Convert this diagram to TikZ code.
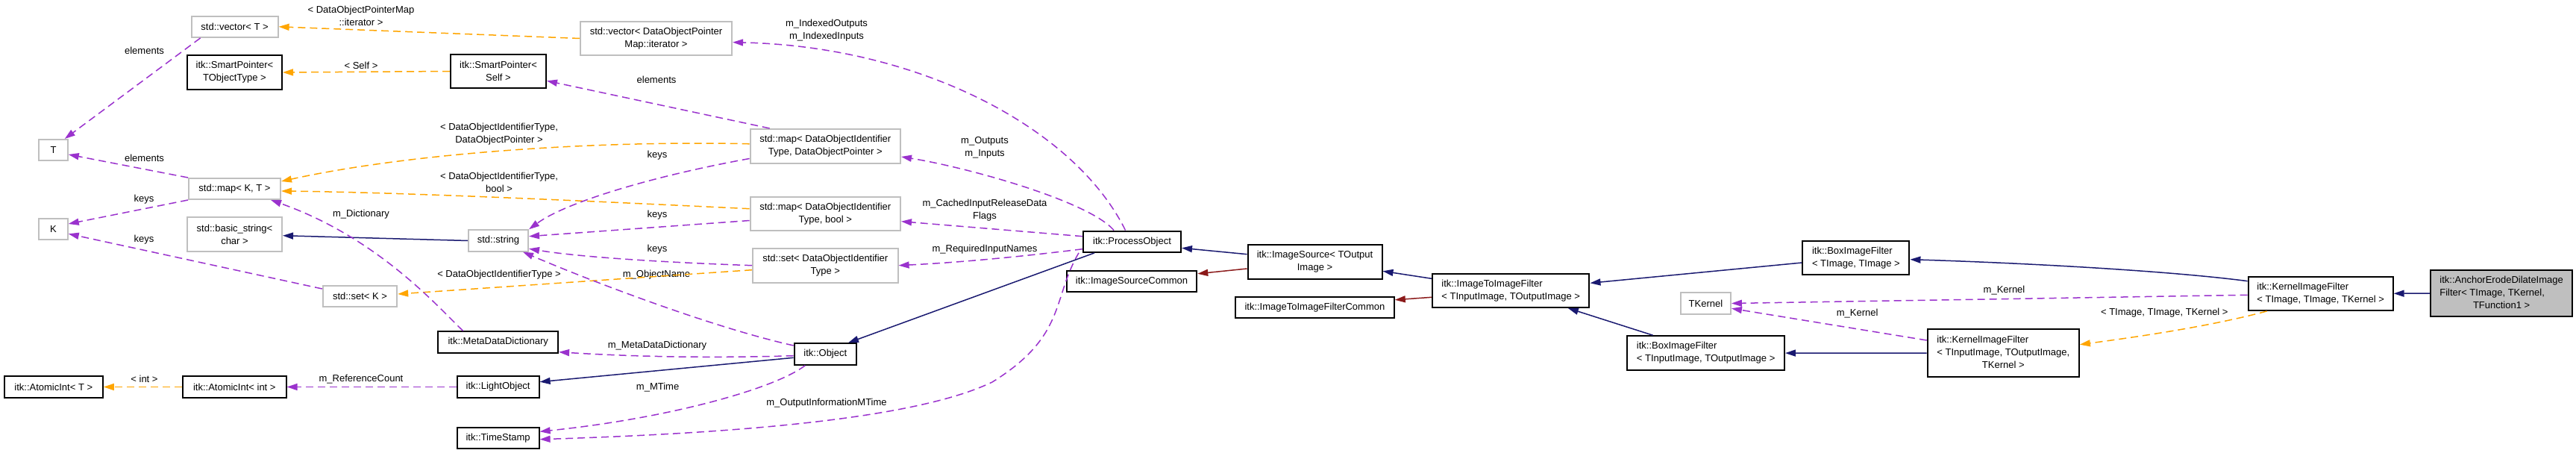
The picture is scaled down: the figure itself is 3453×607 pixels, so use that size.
\documentclass[tikz,border=0pt]{standalone}
\usepackage{fontspec}
\setmainfont{Liberation Sans}
\usetikzlibrary{arrows.meta}
\definecolor{navyc}{HTML}{191970}
\definecolor{dredc}{HTML}{8B1A1A}
\definecolor{purpc}{HTML}{9A32CD}
\definecolor{orngc}{HTML}{FFA500}
\definecolor{boxgray}{HTML}{BFBFBF}
\newcommand\lblfont{\fontsize{13}{17}\selectfont}
\tikzset{
  bbox/.style={draw=black, line width=2pt, fill=white, inner sep=0pt, font=\lblfont, align=center},
  gbox/.style={bbox, draw=boxgray},
  lbl/.style={font=\lblfont, align=center, inner sep=0pt},
  tipstyle/.style={-{Triangle[length=14pt,width=9pt]}},
  navyline/.style={draw=navyc, line width=1.5pt, tipstyle},
  dredline/.style={draw=dredc, line width=1.5pt, tipstyle},
  purpline/.style={draw=purpc, line width=1.5pt, dash pattern=on 10pt off 6pt, tipstyle},
  orngline/.style={draw=orngc, line width=1.5pt, dash pattern=on 10pt off 6pt, tipstyle},
}
\begin{document}
\begin{tikzpicture}[x=1pt,y=-1pt]
\useasboundingbox (0,0) rectangle (3453,607);
% ---------- nodes ----------
\node[gbox, minimum width=116pt, minimum height=28.3pt] (vecT) at (314.6,35.8) {std::vector< T >};
\node[bbox, minimum width=127pt, minimum height=46pt] (spTO) at (314.5,97) {itk::SmartPointer<\\TObjectType >};
\node[bbox, minimum width=128pt, minimum height=45.6pt] (spSelf) at (668,95.5) {itk::SmartPointer<\\Self >};
\node[gbox, minimum width=203pt, minimum height=45pt] (vecDOPM) at (879.5,51.5) {std::vector< DataObjectPointer\\Map::iterator >};
\node[gbox, minimum width=38.5pt, minimum height=28pt] (T) at (71.5,201) {T};
\node[gbox, minimum width=123pt, minimum height=28pt] (mapKT) at (314.5,253) {std::map< K, T >};
\node[gbox, minimum width=38.5pt, minimum height=28pt] (K) at (71.5,306.7) {K};
\node[gbox, minimum width=127pt, minimum height=46pt] (bstr) at (314.5,314) {std::basic\_string<\\char >};
\node[gbox, minimum width=80pt, minimum height=28.4pt] (stdstring) at (668,322.5) {std::string};
\node[gbox, minimum width=99.4pt, minimum height=28pt] (setK) at (482.5,397) {std::set< K >};
\node[bbox, minimum width=160.7pt, minimum height=28.4pt] (MDD) at (667.7,458.5) {itk::MetaDataDictionary};
\node[bbox, minimum width=132pt, minimum height=28.4pt] (AIT) at (71.8,518.5) {itk::AtomicInt< T >};
\node[bbox, minimum width=138.5pt, minimum height=28.4pt] (AII) at (314.3,518.5) {itk::AtomicInt< int >};
\node[bbox, minimum width=110pt, minimum height=28.4pt] (LightObject) at (667.6,518.5) {itk::LightObject};
\node[bbox, minimum width=110pt, minimum height=28.4pt] (TimeStamp) at (667.6,586.9) {itk::TimeStamp};
\node[gbox, minimum width=201.4pt, minimum height=45.7pt] (mapDOP) at (1106.3,195.8) {std::map< DataObjectIdentifier\\Type, DataObjectPointer >};
\node[gbox, minimum width=201.4pt, minimum height=45.3pt] (mapBool) at (1106.3,286.7) {std::map< DataObjectIdentifier\\Type, bool >};
\node[gbox, minimum width=194.6pt, minimum height=46pt] (setDOIT) at (1106.3,355.7) {std::set< DataObjectIdentifier\\Type >};
\node[bbox, minimum width=83.3pt, minimum height=28.4pt] (Object) at (1106.3,474.5) {itk::Object};
\node[bbox, minimum width=131pt, minimum height=28.4pt] (PO) at (1517.5,323.7) {itk::ProcessObject};
\node[bbox, minimum width=174.5pt, minimum height=28.3pt] (ISC) at (1517,376.8) {itk::ImageSourceCommon};
\node[bbox, minimum width=180pt, minimum height=46pt] (ImageSource) at (1762.5,350.7) {itk::ImageSource< TOutput\\Image >};
\node[bbox, minimum width=212.8pt, minimum height=28.3pt] (I2IC) at (1762.4,411.8) {itk::ImageToImageFilterCommon};
\node[bbox, align=left, minimum width=210.5pt, minimum height=45.3pt] (I2I) at (2025.2,389.3) {itk::ImageToImageFilter\\< TInputImage, TOutputImage >};
\node[bbox, align=left, minimum width=143pt, minimum height=45.3pt] (BoxTT) at (2487.9,345.3) {itk::BoxImageFilter\\< TImage, TImage >};
\node[gbox, minimum width=67pt, minimum height=28.4pt] (TKernel) at (2286.4,406.5) {TKernel};
\node[bbox, align=left, minimum width=210.7pt, minimum height=45.7pt] (BoxIO) at (2286.6,473.1) {itk::BoxImageFilter\\< TInputImage, TOutputImage >};
\node[bbox, minimum width=203.2pt, minimum height=63.4pt] (KIFIOK) at (2685.3,473) {\begin{tabular}{@{}l@{}}itk::KernelImageFilter\\< TInputImage, TOutputImage,\\\multicolumn{1}{@{}c@{}}{TKernel >}\end{tabular}};
\node[bbox, align=left, minimum width=194pt, minimum height=45.3pt] (KIFTTK) at (3110.6,393.3) {itk::KernelImageFilter\\< TImage, TImage, TKernel >};
\node[bbox, fill=boxgray, minimum width=189.4pt, minimum height=62.6pt] (Anchor) at (3353.1,393) {\begin{tabular}{@{}l@{}}itk::AnchorErodeDilateImage\\Filter< TImage, TKernel,\\\multicolumn{1}{@{}c@{}}{TFunction1 >}\end{tabular}};
% ---------- labels ----------
\node[lbl] (L1) at (484,21.7) {< DataObjectPointerMap\\::iterator >};
\node[lbl] (L2) at (193.5,68.3) {elements};
\node[lbl] (L3) at (484,87.7) {< Self >};
\node[lbl] (L4) at (880,107) {elements};
\node[lbl] (L5) at (669,180) {< DataObjectIdentifierType,\\DataObjectPointer >};
\node[lbl] (L6) at (193.5,211.7) {elements};
\node[lbl] (L7) at (881,208) {keys};
\node[lbl] (L8) at (669,244.3) {< DataObjectIdentifierType,\\bool >};
\node[lbl] (L9) at (193,266.7) {keys};
\node[lbl] (L10) at (484,286.7) {m\_Dictionary};
\node[lbl] (L11) at (881,287.7) {keys};
\node[lbl] (L12) at (193,320.7) {keys};
\node[lbl] (L13) at (881,334.3) {keys};
\node[lbl] (L14) at (669,368.3) {< DataObjectIdentifierType >};
\node[lbl] (L15) at (880,368) {m\_ObjectName};
\node[lbl] (L16) at (881,463.3) {m\_MetaDataDictionary};
\node[lbl] (L17) at (193.5,508.3) {< int >};
\node[lbl] (L18) at (484,508.3) {m\_ReferenceCount};
\node[lbl] (L19) at (881.6,519.3) {m\_MTime};
\node[lbl] (L20) at (1108,540) {m\_OutputInformationMTime};
\node[lbl] (L21) at (1108,40.3) {m\_IndexedOutputs\\m\_IndexedInputs};
\node[lbl] (L22) at (1320,197.7) {m\_Outputs\\m\_Inputs};
\node[lbl] (L23) at (1320,281.7) {m\_CachedInputReleaseData\\Flags};
\node[lbl] (L24) at (1320,334.3) {m\_RequiredInputNames};
\node[lbl] (L25) at (2686.5,388.7) {m\_Kernel};
\node[lbl] (L26) at (2489.6,420) {m\_Kernel};
\node[lbl] (L27) at (2901.3,419.3) {< TImage, TImage, TKernel >};
% ---------- connectors ----------
\draw[orngline] (vecDOPM.west) -- (vecT.east);
\draw[purpline] ([xshift=13pt]vecT.south west) -- ([xshift=-5pt]T.north east);
\draw[orngline] (spSelf.west) -- (spTO.east);
\draw[purpline] ([xshift=27pt]mapDOP.north west) -- ([yshift=-12.8pt]spSelf.east);
\draw[purpline] (mapKT.north west) -- ([yshift=-6pt]T.east);
\draw[purpline] (mapKT.south west) -- ([yshift=6.7pt]K.east);
\draw[purpline] ([yshift=10pt]setK.west) -- ([yshift=-6.6pt]K.east);
\draw[orngline] ([yshift=3pt]mapDOP.west) .. controls (800,188) and (550,205) .. ([yshift=10pt]mapKT.east);
\draw[orngline] ([yshift=7pt]mapBool.west) .. controls (800,270) and (550,258) .. ([yshift=-3pt]mapKT.east);
\draw[purpline] ([yshift=-16.7pt]mapDOP.west) .. controls (880,235) and (760,270) .. (stdstring.north east);
\draw[purpline] ([yshift=-8.8pt]mapBool.west) -- ([yshift=5.8pt]stdstring.east);
\draw[purpline] (setDOIT.west) .. controls (900,352) and (780,345) .. ([yshift=-10.8pt]stdstring.east);
\draw[orngline] ([yshift=-6pt]setDOIT.west) -- ([yshift=3pt]setK.east);
\draw[navyline] (stdstring.west) -- ([yshift=-1.7pt]bstr.east);
\draw[purpline] ([xshift=-47pt]MDD.north) .. controls (590,415) and (510,320) .. ([xshift=-14pt]mapKT.south east);
\draw[purpline] ([yshift=11.5pt]Object.west) .. controls (960,440) and (800,380) .. ([xshift=-8pt]stdstring.south east);
\draw[purpline] ([yshift=-2.2pt]Object.west) .. controls (950,480) and (850,478) .. ([yshift=-13.2pt]MDD.east);
\draw[navyline] ([yshift=-4.8pt]Object.west) -- ([yshift=6.8pt]LightObject.east);
\draw[purpline] (LightObject.west) -- (AII.east);
\draw[orngline] (AII.west) -- (AIT.east);
\draw[purpline] ([xshift=-27pt]Object.south) .. controls (1040,520) and (900,560) .. ([yshift=8.6pt]TimeStamp.east);
\draw[purpline] ([xshift=-5pt]PO.south west) .. controls (1410,400) and (1430,450) .. (1330,512) .. controls (1230,560) and (1000,580) .. ([yshift=-1.8pt]TimeStamp.east);
\draw[purpline] ([yshift=-10pt]PO.west) .. controls (1360,345) and (1280,352) .. (setDOIT.east);
\draw[purpline] ([yshift=7pt]PO.west) -- ([yshift=-10pt]mapBool.east);
\draw[purpline] ([xshift=-24.5pt]PO.north) .. controls (1460,270) and (1300,225) .. ([yshift=-14.2pt]mapDOP.east);
\draw[purpline] ([xshift=-9pt]PO.north) .. controls (1440,170) and (1230,62) .. ([yshift=-5.2pt]vecDOPM.east);
\draw[navyline] ([xshift=-50.5pt]PO.south) -- ([xshift=-12pt]Object.north east);
\draw[navyline] ([yshift=10pt]ImageSource.west) -- ([yshift=-8.6pt]PO.east);
\draw[dredline] ([yshift=-9.3pt]ImageSource.west) -- ([yshift=10pt]ISC.east);
\draw[navyline] ([yshift=16pt]I2I.west) -- ([yshift=-12.6pt]ImageSource.east);
\draw[dredline] ([yshift=-9pt]I2I.west) -- ([yshift=10pt]I2IC.east);
\draw[navyline] ([yshift=-6.7pt]BoxTT.west) -- ([yshift=10pt]I2I.east);
\draw[navyline] ([xshift=-71pt]BoxIO.north) -- ([xshift=76.6pt]I2I.south);
\draw[navyline] ([yshift=-7pt]KIFTTK.north west) .. controls (2900,362) and (2700,352) .. ([yshift=-2.4pt]BoxTT.east);
\draw[navyline] (Anchor.west) -- (KIFTTK.east);
\draw[purpline] ([yshift=-2pt]KIFTTK.west) -- (TKernel.east);
\draw[purpline] ([yshift=17pt]KIFIOK.west) -- ([yshift=-6.8pt]TKernel.east);
\draw[orngline] ([xshift=26pt]KIFTTK.south west) .. controls (2960,438) and (2860,452) .. ([yshift=11.3pt]KIFIOK.east);
\draw[navyline] (KIFIOK.west) -- (BoxIO.east);
\end{tikzpicture}
\end{document}
